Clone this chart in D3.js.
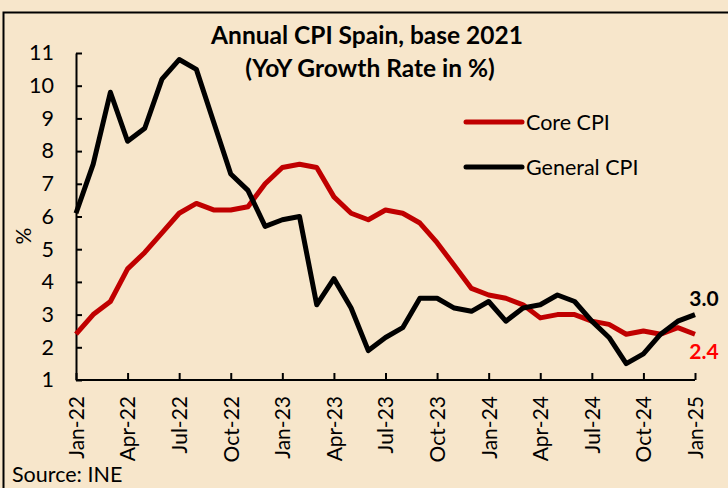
<!DOCTYPE html>
<html><head><meta charset="utf-8">
<script src="https://cdn.jsdelivr.net/npm/d3@7"></script>
<style>
html,body{margin:0;padding:0;background:#F7E6CB;}
svg{display:block;font-family:Lato, "Open Sans", sans-serif;}
</style></head>
<body>
<svg id="chart" width="728" height="488"></svg>
<script>
const months = ["Jan-22","Feb-22","Mar-22","Apr-22","May-22","Jun-22","Jul-22","Aug-22","Sep-22","Oct-22","Nov-22","Dec-22",
"Jan-23","Feb-23","Mar-23","Apr-23","May-23","Jun-23","Jul-23","Aug-23","Sep-23","Oct-23","Nov-23","Dec-23",
"Jan-24","Feb-24","Mar-24","Apr-24","May-24","Jun-24","Jul-24","Aug-24","Sep-24","Oct-24","Nov-24","Dec-24","Jan-25"];
const coreCPI = [2.4,3.0,3.4,4.4,4.9,5.5,6.1,6.4,6.2,6.2,6.3,7.0,
7.5,7.6,7.5,6.6,6.1,5.9,6.2,6.1,5.8,5.2,4.5,3.8,
3.6,3.5,3.3,2.9,3.0,3.0,2.8,2.7,2.4,2.5,2.4,2.6,2.4];
const generalCPI = [6.1,7.6,9.8,8.3,8.7,10.2,10.8,10.5,8.9,7.3,6.8,5.7,
5.9,6.0,3.3,4.1,3.2,1.9,2.3,2.6,3.5,3.5,3.2,3.1,
3.4,2.8,3.2,3.3,3.6,3.4,2.8,2.3,1.5,1.8,2.4,2.8,3.0];
const yTicks = [1,2,3,4,5,6,7,8,9,10,11];
const xTickLabels = ["Jan-22","Apr-22","Jul-22","Oct-22","Jan-23","Apr-23","Jul-23","Oct-23","Jan-24","Apr-24","Jul-24","Oct-24","Jan-25"];
const seriesNames = ["Core CPI","General CPI"];
const titleLines = ["Annual CPI Spain, base 2021","(YoY Growth Rate in %)"];

const svg = d3.select("#chart");
const bg = "#F7E6CB";
const red = "#C00000";

// frame
svg.append("rect").attr("x",0).attr("y",0).attr("width",728).attr("height",488).attr("fill",bg);
svg.append("path").attr("d","M3.5,489 L3.5,12.5 L730,12.5").attr("fill","none").attr("stroke","#000").attr("stroke-width",2);

const x = d3.scalePoint().domain(months).range([76,695]);
const y = d3.scaleLinear().domain([1,11]).range([380,53]);

// axes
const xAxis = d3.axisBottom(x).tickValues(xTickLabels).tickSizeInner(-7).tickSizeOuter(0).tickFormat("");
const gx = svg.append("g").attr("transform","translate(0,380)").call(xAxis);
gx.select(".domain").attr("stroke","#000").attr("stroke-width",2).attr("d","M76,0H695");
gx.selectAll(".tick line").attr("stroke","#000").attr("stroke-width",2);

gx.selectAll(".tick").append("text")
  .attr("transform","rotate(-90)")
  .attr("x",-16).attr("y",0).attr("dy","0.35em")
  .attr("text-anchor","end")
  .attr("fill","#000")
  .style("font-size","21px")
  .style("font-family","Lato, sans-serif")
  .text(d=>d);

const yAxis = d3.axisLeft(y).tickValues(yTicks).tickSizeInner(-6).tickSizeOuter(0).tickPadding(0).tickFormat(d3.format("d"));
const gy = svg.append("g").attr("transform","translate(76,0)").call(yAxis);
gy.select(".domain").attr("stroke","#000").attr("stroke-width",2);
gy.selectAll(".tick line").attr("stroke","#000").attr("stroke-width",2);
gy.selectAll(".tick text").attr("x",-22).attr("fill","#000").style("font-size","21.5px").style("font-family","Lato, sans-serif");

// % label
svg.append("text").attr("transform","translate(31,236) rotate(-90)").attr("text-anchor","middle")
  .style("font-size","21px").text("%");

// lines
const line = d3.line().x((d,i)=>x(months[i])).y(d=>y(d));
svg.append("path").datum(coreCPI).attr("d",line).attr("fill","none").attr("stroke",red).attr("stroke-width",5).attr("stroke-linejoin","round");
svg.append("path").datum(generalCPI).attr("d",line).attr("fill","none").attr("stroke","#000").attr("stroke-width",5).attr("stroke-linejoin","round");

// end labels
const last = months.length-1;
svg.append("text").attr("x",x(months[last])+9).attr("y",y(generalCPI[last])-9).attr("text-anchor","middle")
  .style("font-size","21px").style("font-weight","bold").attr("fill","#000").text(generalCPI[last].toFixed(1));
svg.append("text").attr("x",x(months[last])+9).attr("y",y(coreCPI[last])+25).attr("text-anchor","middle")
  .style("font-size","21px").style("font-weight","bold").attr("fill","#FF0000").text(coreCPI[last].toFixed(1));

// title
svg.append("text").attr("x",367).attr("y",44).attr("text-anchor","middle")
  .style("font-size","24.5px").style("font-weight","bold").text(titleLines[0]);
svg.append("text").attr("x",370).attr("y",77).attr("text-anchor","middle")
  .style("font-size","24.5px").style("font-weight","bold").text(titleLines[1]);

// legend
const legColors = [red,"#000"];
const legY = [122,167];
seriesNames.forEach((n,i)=>{
  svg.append("line").attr("x1",466).attr("x2",522).attr("y1",legY[i]).attr("y2",legY[i])
    .attr("stroke",legColors[i]).attr("stroke-width",5).attr("stroke-linecap","round");
  svg.append("text").attr("x",526).attr("y",legY[i]).attr("dy","0.35em").style("font-size","21.5px").text(n);
});

// source
svg.append("text").attr("x",12).attr("y",482).style("font-size","21.5px").text("Source: INE");
</script>
</body></html>
